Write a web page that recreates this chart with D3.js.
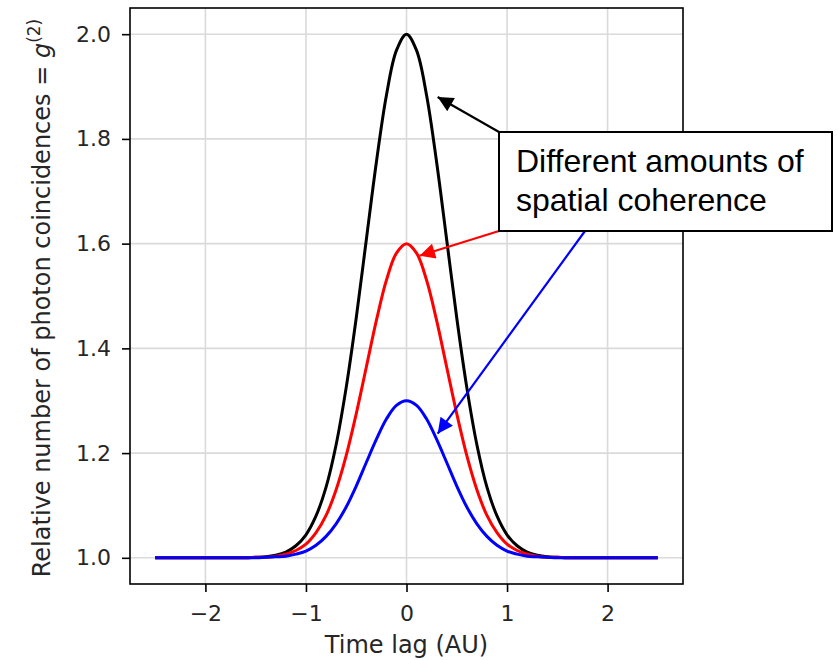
<!DOCTYPE html>
<html>
<head>
<meta charset="utf-8">
<script src="https://cdn.jsdelivr.net/npm/d3@7"></script>
<style>
	body { margin: 0; background: #fff; }
	svg { display: block; }
</style>
</head>
<body>
<div id="chart"></div>
<script>
// sample grid of the time lag (AU)
let timeLag = [-2.5, -2.4, -2.3, -2.2, -2.1, -2.0, -1.9, -1.8, -1.7, -1.6,
	-1.5, -1.4, -1.3, -1.2, -1.1, -1.0, -0.9, -0.8, -0.7, -0.6, -0.5, -0.4, -0.3, -0.2, -0.1,
	0.0,
	0.1, 0.2, 0.3, 0.4, 0.5, 0.6, 0.7, 0.8, 0.9, 1.0, 1.1, 1.2, 1.3, 1.4, 1.5,
	1.6, 1.7, 1.8, 1.9, 2.0, 2.1, 2.2, 2.3, 2.4, 2.5];

// g2
let g2Black = [1.000, 1.000, 1.000, 1.000, 1.000, 1.000, 1.000, 1.000, 1.000, 1.000,
	1.001, 1.002, 1.005, 1.011, 1.023, 1.044, 1.080, 1.135, 1.216, 1.325, 1.458, 1.607, 1.755, 1.883, 1.969,
	2.000,
	1.969, 1.883, 1.755, 1.607, 1.458, 1.325, 1.216, 1.135, 1.080, 1.044, 1.023, 1.011, 1.005, 1.002, 1.001,
	1.000, 1.000, 1.000, 1.000, 1.000, 1.000, 1.000, 1.000, 1.000, 1.000];

let g2Red = [1.000, 1.000, 1.000, 1.000, 1.000, 1.000, 1.000, 1.000, 1.000, 1.000,
	1.001, 1.001, 1.003, 1.007, 1.014, 1.026, 1.048, 1.081, 1.130, 1.195, 1.275, 1.364, 1.453, 1.530, 1.582,
	1.600,
	1.582, 1.530, 1.453, 1.364, 1.275, 1.195, 1.130, 1.081, 1.048, 1.026, 1.014, 1.007, 1.003, 1.001, 1.001,
	1.000, 1.000, 1.000, 1.000, 1.000, 1.000, 1.000, 1.000, 1.000, 1.000];

let g2Blue = [1.000, 1.000, 1.000, 1.000, 1.000, 1.000, 1.000, 1.000, 1.000, 1.000,
	1.000, 1.001, 1.002, 1.003, 1.007, 1.013, 1.024, 1.041, 1.065, 1.097, 1.137, 1.182, 1.226, 1.265, 1.291,
	1.300,
	1.291, 1.265, 1.226, 1.182, 1.137, 1.097, 1.065, 1.041, 1.024, 1.013, 1.007, 1.003, 1.002, 1.001, 1.000,
	1.000, 1.000, 1.000, 1.000, 1.000, 1.000, 1.000, 1.000, 1.000, 1.000];

let xTicks = [-2, -1, 0, 1, 2];
let yTicks = [1.0, 1.2, 1.4, 1.6, 1.8, 2.0];

// where each arrow of the callout touches its curve
let arrowTargets = [
	{color: 'black', x: 0.31, y: 1.880},
	{color: 'red',   x: 0.13, y: 1.577},
	{color: 'blue',  x: 0.31, y: 1.237}
];

let width  = 838,
	height = 660,
	plot   = {left: 130, right: 683, top: 8, bottom: 584},
	font   = '"DejaVu Sans", sans-serif',
	gridColor = '#dadada';

let svg = d3.select('#chart').append('svg')
			.attr('width', width)
			.attr('height', height);

let x = d3.scaleLinear().domain([-2.75, 2.75]).range([plot.left, plot.right]);
let y = d3.scaleLinear().domain([0.95, 2.05]).range([plot.bottom, plot.top]);

// grid
let grid = svg.append('g');
grid.selectAll('.gx').data(xTicks).enter().append('line')
	.attr('x1', d => x(d)).attr('x2', d => x(d))
	.attr('y1', plot.top).attr('y2', plot.bottom)
	.style('stroke', gridColor).style('stroke-width', 1.6);
grid.selectAll('.gy').data(yTicks).enter().append('line')
	.attr('x1', plot.left).attr('x2', plot.right)
	.attr('y1', d => y(d)).attr('y2', d => y(d))
	.style('stroke', gridColor).style('stroke-width', 1.6);

// curves
let series = [
	{color: 'black', values: g2Black},
	{color: 'red',   values: g2Red},
	{color: 'blue',  values: g2Blue}
];
let line = d3.line()
	.x((d, i) => x(timeLag[i]))
	.y(d => y(d))
	.curve(d3.curveCatmullRom);

svg.append('g').selectAll('path').data(series).enter().append('path')
	.attr('d', d => line(d.values))
	.style('fill', 'none')
	.style('stroke', d => d.color)
	.style('stroke-width', 3);

// axes
let xAxis = d3.axisBottom(x).tickValues(xTicks).tickSize(8).tickPadding(13)
	.tickFormat(d => d3.format('d')(d).replace('-', '\u2212'));
let yAxis = d3.axisLeft(y).tickValues(yTicks).tickSize(8).tickPadding(11)
	.tickFormat(d3.format('.1f'));

let gx = svg.append('g').attr('transform', `translate(0, ${plot.bottom})`).call(xAxis);
let gy = svg.append('g').attr('transform', `translate(${plot.left}, 0)`).call(yAxis);
[gx, gy].forEach(g => {
	g.select('.domain').remove();
	g.selectAll('line').style('stroke', '#000').style('stroke-width', 1.6);
	g.selectAll('text').style('font-family', font).style('font-size', '22px').style('fill', '#262626');
});

// frame
svg.append('rect')
	.attr('x', plot.left).attr('y', plot.top)
	.attr('width', plot.right - plot.left).attr('height', plot.bottom - plot.top)
	.style('fill', 'none').style('stroke', '#000').style('stroke-width', 1.6);

// labels
svg.append('text')
	.attr('x', x(0)).attr('y', 653)
	.attr('text-anchor', 'middle')
	.style('font-family', font).style('font-size', '24px').style('fill', '#262626')
	.text('Time lag (AU)');

let yLabel = svg.append('text')
	.attr('transform', `translate(50, ${(plot.top + plot.bottom) / 2 + 2}) rotate(-90)`)
	.attr('text-anchor', 'middle')
	.style('font-family', font).style('font-size', '24px').style('fill', '#262626');
yLabel.append('tspan').text('Relative number of photon coincidences = ');
yLabel.append('tspan').style('font-style', 'italic').text('g');
yLabel.append('tspan').attr('dy', -10).style('font-size', '17px').text('(2)');

// callout box and arrows
let box = {x: 499, y: 132, w: 333, h: 99};
let starts = [[box.x, box.y], [box.x, box.y + box.h], [585, box.y + box.h]];

let defs = svg.append('defs');
arrowTargets.forEach(a => {
	defs.append('marker')
		.attr('id', 'head-' + a.color)
		.attr('viewBox', '0 0 10 10')
		.attr('refX', 10).attr('refY', 5)
		.attr('markerWidth', 9).attr('markerHeight', 7)
		.attr('markerUnits', 'strokeWidth')
		.attr('orient', 'auto')
		.append('path').attr('d', 'M0,0L10,5L0,10Z').style('fill', a.color);
});

svg.append('g').selectAll('line').data(arrowTargets).enter().append('line')
	.attr('x1', (d, i) => starts[i][0]).attr('y1', (d, i) => starts[i][1])
	.attr('x2', d => x(d.x)).attr('y2', d => y(d.y))
	.style('stroke', d => d.color).style('stroke-width', 2.2)
	.attr('marker-end', d => `url(#head-${d.color})`);

svg.append('rect')
	.attr('x', box.x).attr('y', box.y).attr('width', box.w).attr('height', box.h)
	.style('fill', '#fff').style('stroke', '#000').style('stroke-width', 2);

let callout = svg.append('text')
	.style('font-family', '"Liberation Sans", Arial, sans-serif')
	.style('font-size', '32px').style('fill', '#000');
callout.append('tspan').attr('x', 516).attr('y', 172).text('Different amounts of');
callout.append('tspan').attr('x', 516).attr('y', 211).text('spatial coherence');
</script>
</body>
</html>
